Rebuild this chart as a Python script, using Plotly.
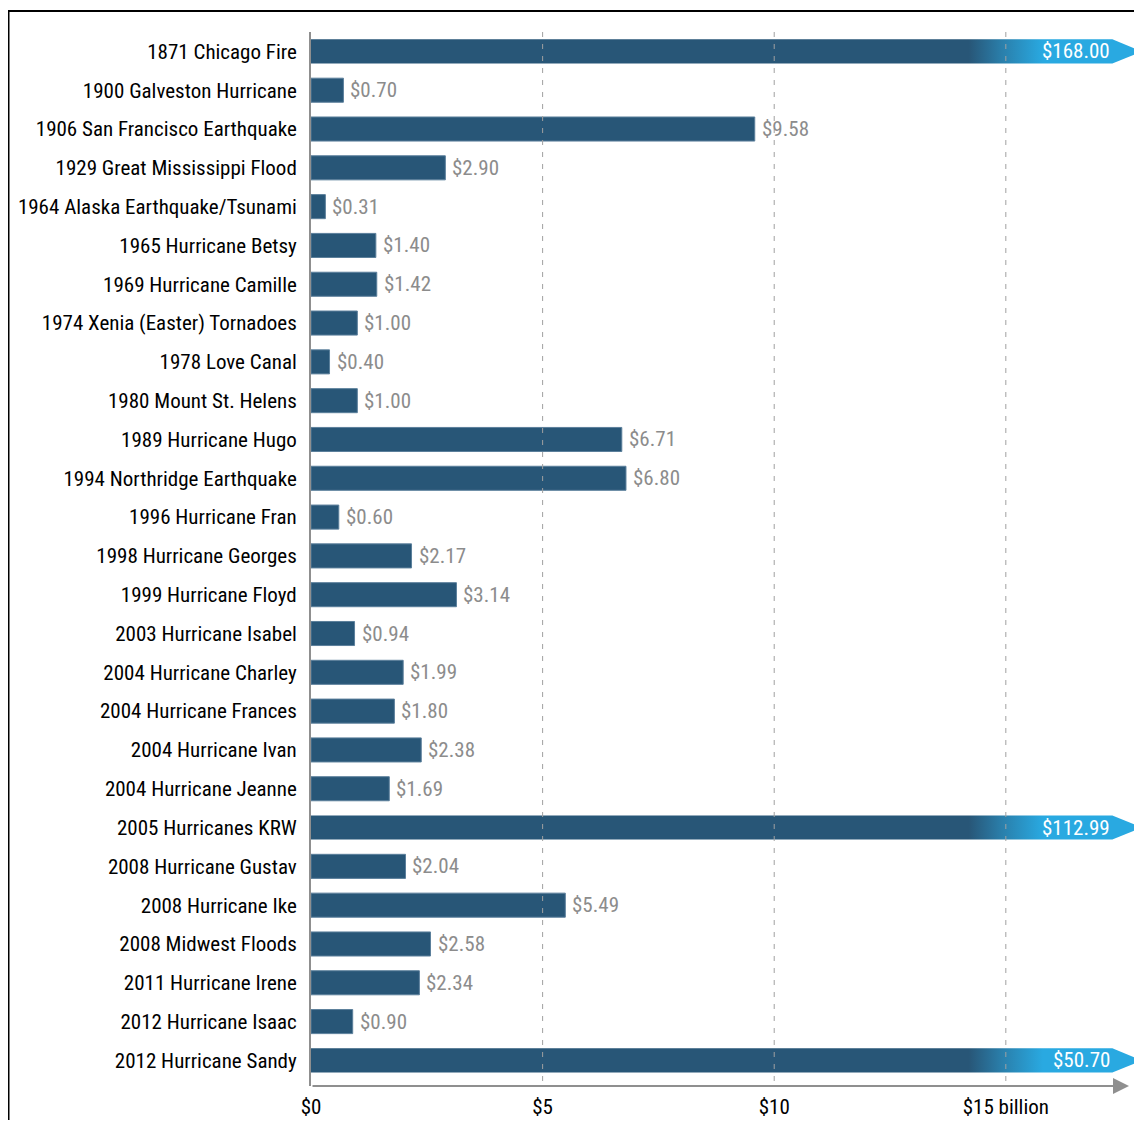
import plotly.graph_objects as go

categories = [
    "1871 Chicago Fire", "1900 Galveston Hurricane", "1906 San Francisco Earthquake",
    "1929 Great Mississippi Flood", "1964 Alaska Earthquake/Tsunami", "1965 Hurricane Betsy",
    "1969 Hurricane Camille", "1974 Xenia (Easter) Tornadoes", "1978 Love Canal",
    "1980 Mount St. Helens", "1989 Hurricane Hugo", "1994 Northridge Earthquake",
    "1996 Hurricane Fran", "1998 Hurricane Georges", "1999 Hurricane Floyd",
    "2003 Hurricane Isabel", "2004 Hurricane Charley", "2004 Hurricane Frances",
    "2004 Hurricane Ivan", "2004 Hurricane Jeanne", "2005 Hurricanes KRW",
    "2008 Hurricane Gustav", "2008 Hurricane Ike", "2008 Midwest Floods",
    "2011 Hurricane Irene", "2012 Hurricane Isaac", "2012 Hurricane Sandy",
]
values = [168.00, 0.70, 9.58, 2.90, 0.31, 1.40, 1.42, 1.00, 0.40, 1.00, 6.71, 6.80,
          0.60, 2.17, 3.14, 0.94, 1.99, 1.80, 2.38, 1.69, 112.99, 2.04, 5.49, 2.58,
          2.34, 0.90, 50.70]
tick_vals = [0, 5, 10, 15]
tick_text = ["$0", "$5", "$10", "$15 billion"]

# style constants
FONT = "Roboto Condensed, Liberation Sans Narrow, sans-serif"
FS = 21
DARK = "#285677"
BRIGHT = "#29a9e1"
GREY = "#8c8c8c"
AXIS_GREY = "#8f8f8f"
X_MAX = 17.94
Y_BOTTOM = 26.66
CAP = 17.3      # where out-of-scale bars are broken
TIP = 17.94     # arrow tip for out-of-scale bars
BAR_W = 0.62

W, H = 1134, 1112
ML, MR, MT, MB = 303, 0, 24, 34
PW, PH = W - ML - MR, H - MT - MB

n = len(categories)
ys = list(range(n))
in_scale = [v if v <= X_MAX else None for v in values]

fig = go.Figure()
fig.add_trace(go.Bar(
    x=in_scale, y=ys, orientation="h", width=BAR_W,
    marker=dict(color=DARK, line=dict(color="#5b7f9b", width=1)),
    hoverinfo="skip", showlegend=False,
))

annotations = []
for i, v in enumerate(values):
    if v > X_MAX:
        h = BAR_W / 2
        fig.add_trace(go.Scatter(
            x=[0, CAP, TIP, CAP, 0, 0],
            y=[i - h, i - h, i, i + h, i + h, i - h],
            mode="lines", fill="toself", line=dict(width=0),
            fillgradient=dict(type="horizontal", start=14.2, stop=15.8,
                              colorscale=[[0, DARK], [0.45, "#2a7fab"], [1, BRIGHT]]),
            hoverinfo="skip", showlegend=False,
        ))
        annotations.append(dict(x=CAP, y=i, text=f"${v:.2f}", showarrow=False,
                                xanchor="right", xshift=0,
                                font=dict(family=FONT, size=FS, color="white")))
    else:
        annotations.append(dict(x=v, y=i, text=f"${v:.2f}", showarrow=False,
                                xanchor="left", xshift=5,
                                font=dict(family=FONT, size=FS, color=GREY)))

# x axis line with arrow
annotations.append(dict(x=17.66, y=Y_BOTTOM, ax=0, ay=Y_BOTTOM, xref="x", yref="y",
                        axref="x", ayref="y", showarrow=True, arrowhead=2,
                        arrowsize=1.6, arrowwidth=2, arrowcolor=AXIS_GREY, text=""))

shapes = []
for t in tick_vals[1:]:
    shapes.append(dict(type="line", xref="x", yref="y", x0=t, x1=t, y0=-0.5, y1=Y_BOTTOM,
                       line=dict(color="#a0a0a0", width=1, dash="5px,7px"), layer="above"))

# outer frame (partly outside the page, as in the reference)
def px_x(p):
    return (p - ML) / PW

def px_y(p):
    return (MT + PH - p) / PH

shapes.append(dict(type="rect", xref="paper", yref="paper",
                   x0=px_x(0.5), x1=px_x(W + 20), y0=px_y(H + 20), y1=px_y(3),
                   line=dict(color="black", width=2), fillcolor="rgba(0,0,0,0)"))

fig.update_layout(
    width=W, height=H,
    margin=dict(l=ML, r=MR, t=MT, b=MB, autoexpand=False),
    plot_bgcolor="white", paper_bgcolor="white",
    font=dict(family=FONT, size=FS, color="#000000"),
    annotations=annotations, shapes=shapes,
    xaxis=dict(range=[0, X_MAX], tickvals=tick_vals, ticktext=tick_text,
               showgrid=False, zeroline=False, showline=False, ticks="",
               automargin=False,
               tickfont=dict(family=FONT, size=FS, color="#000000"),
               ticklabelstandoff=6),
    yaxis=dict(range=[Y_BOTTOM, -0.5], tickvals=ys, ticktext=categories,
               showgrid=False, zeroline=False, showline=True, linecolor=AXIS_GREY,
               linewidth=2, ticks="", ticklabelstandoff=8, automargin=False,
               tickfont=dict(family=FONT, size=FS, color="#000000")),
)

fig.write_html("out.html")
